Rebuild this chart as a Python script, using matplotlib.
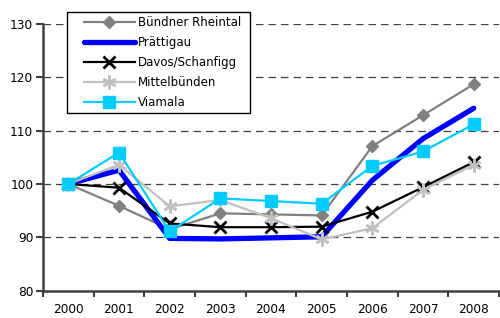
import numpy as np
import matplotlib
matplotlib.use('Agg')
import matplotlib.pyplot as plt
from matplotlib.patches import Rectangle

# Data (index, 2000 = 100)
years = ['2000', '2001', '2002', '2003', '2004', '2005', '2006', '2007', '2008']
rheintal = [100, 95.9, 91.5, 94.5, 94.3, 94.1, 107.1, 112.9, 118.7]
praettigau = [100, 102.6, 89.8, 89.7, 89.9, 90.1, 100.7, 108.5, 114.2]
davos = [100, 99.3, 92.6, 91.9, 91.9, 92.0, 94.8, 99.4, 104.1]
mittelbuenden = [100, 103.6, 95.8, 97.0, 93.6, 89.6, 91.7, 98.9, 103.6]
viamala = [100, 105.9, 91.1, 97.3, 96.8, 96.3, 103.4, 106.1, 111.2]

plt.rcParams['font.family'] = ['DejaVu Sans']

fig = plt.figure(figsize=(5, 3.18), dpi=100)
ax = fig.add_axes([0.086, 0.086, 0.912, 0.8385])

x = np.arange(len(years))

ax.plot(x, rheintal, color='#808080', lw=1.6, marker='D', ms=6.5,
        label='Bündner Rheintal', zorder=3)
ax.plot(x, praettigau, color='#0000FF', lw=3.8, solid_capstyle='round',
        label='Prättigau', zorder=4)
ax.plot(x, davos, color='black', lw=1.6, marker='x', ms=9, mew=2,
        label='Davos/Schanfigg', zorder=5)
ax.plot(x, mittelbuenden, color='#C0C0C0', lw=1.6, marker=(6, 2, 0), ms=10, mew=1.8,
        label='Mittelbünden', zorder=6)
ax.plot(x, viamala, color='#00CCFF', lw=1.6, marker='s', ms=9,
        label='Viamala', zorder=7)

# Axes styling (Excel look)
ax.set_xlim(-0.5, len(years) - 0.5)
ax.set_ylim(80, 130)
ax.set_yticks([80, 90, 100, 110, 120, 130])
for v in [90, 100, 110, 120, 130]:
    ax.axhline(v, color='#404040', lw=0.9, ls=(0, (6, 4)), zorder=1)

ax.set_xticks(np.arange(-0.5, len(years)), minor=False)
ax.set_xticklabels([])
ax.set_xticks(x, minor=True)
ax.set_xticklabels(years, minor=True)
ax.tick_params(axis='x', which='major', direction='out', length=4, width=1.5, color='#404040')
ax.tick_params(axis='x', which='minor', length=0, pad=9, labelsize=8.7)
ax.tick_params(axis='y', direction='out', length=5, width=1.5, color='#404040',
               labelsize=8.7, pad=2)

for s in ['top', 'right']:
    ax.spines[s].set_visible(False)
for s in ['left', 'bottom']:
    ax.spines[s].set_color('#404040')
    ax.spines[s].set_linewidth(1.8)

# Legend box drawn separately, legend entries placed inside it
box = Rectangle((67 / 500, 1 - 113 / 318), (250 - 67) / 500, (113 - 12) / 318,
                transform=fig.transFigure, facecolor='white', edgecolor='black',
                lw=1.0, zorder=10)
fig.patches.append(box)
handles, labels = ax.get_legend_handles_labels()
leg = fig.legend(handles, labels, loc='upper left', bbox_to_anchor=(84 / 500, 1 - 16 / 318),
                 bbox_transform=fig.transFigure, fontsize=8.5, frameon=False,
                 numpoints=1, handlelength=4.3, handletextpad=0.25,
                 labelspacing=0.6, borderpad=0, borderaxespad=0)
leg.set_zorder(11)

fig.savefig('out.png', dpi=100)
plt.close('all')
